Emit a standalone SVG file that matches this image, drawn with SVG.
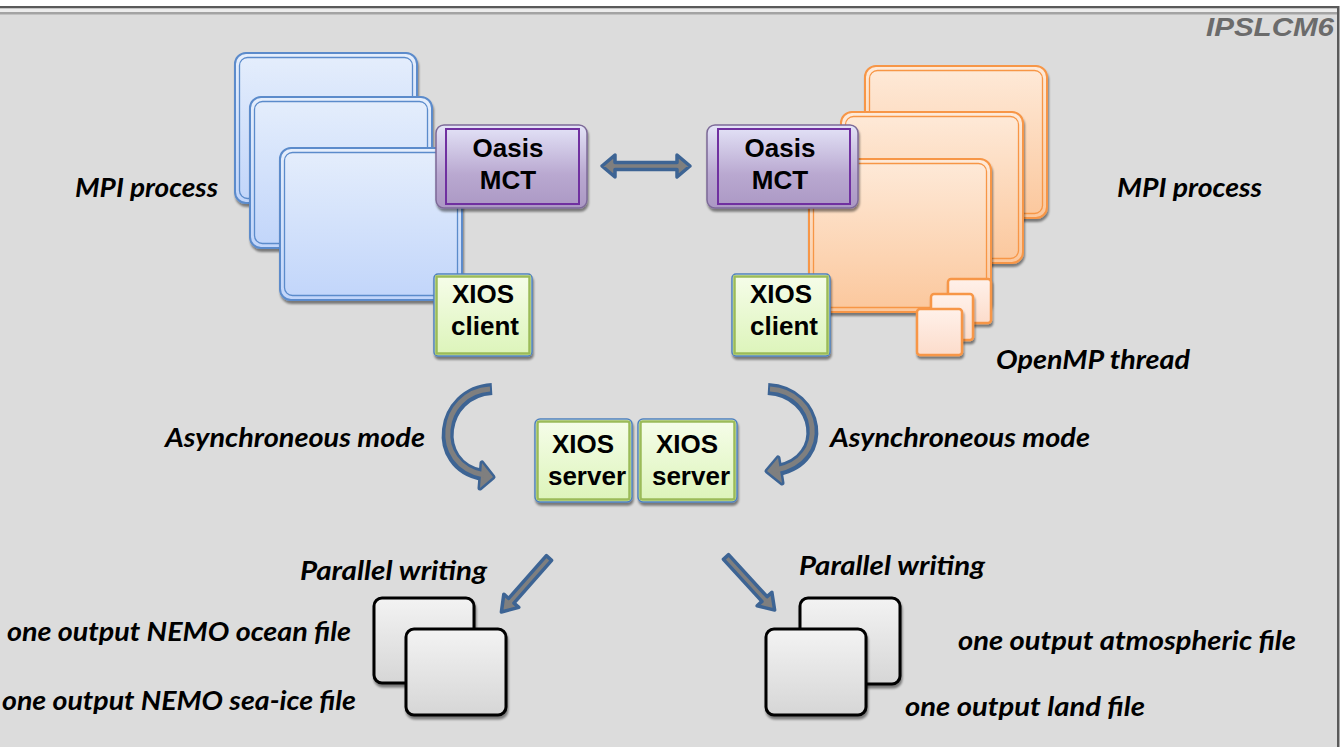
<svg xmlns="http://www.w3.org/2000/svg" width="1342" height="747" viewBox="0 0 1342 747">
<defs>
<linearGradient id="gBlue" x1="0" y1="0" x2="0" y2="1"><stop offset="0" stop-color="#e5eefc"/><stop offset="1" stop-color="#c1d5fa"/></linearGradient>
<linearGradient id="gOrange" x1="0" y1="0" x2="0" y2="1"><stop offset="0" stop-color="#feead9"/><stop offset="1" stop-color="#fbc79c"/></linearGradient>
<linearGradient id="gSmall" x1="0" y1="0" x2="0" y2="1"><stop offset="0" stop-color="#fff1ea"/><stop offset="1" stop-color="#fcdccb"/></linearGradient>
<linearGradient id="gPurple" x1="0" y1="0" x2="0" y2="1"><stop offset="0" stop-color="#e4e4f8"/><stop offset="0.6" stop-color="#b9a8d0"/><stop offset="1" stop-color="#ab98c4"/></linearGradient>
<linearGradient id="gGreen" x1="0" y1="0" x2="0" y2="1"><stop offset="0" stop-color="#f6fdea"/><stop offset="1" stop-color="#dcf4b9"/></linearGradient>
<linearGradient id="gGray" x1="0" y1="0" x2="0" y2="1"><stop offset="0" stop-color="#f3f3f3"/><stop offset="1" stop-color="#d6d6d6"/></linearGradient>
<filter id="sh" x="-10%" y="-10%" width="130%" height="130%"><feDropShadow dx="1" dy="3" stdDeviation="1.2" flood-color="#000" flood-opacity="0.45"/></filter>
</defs>
<style>
.lbl{font-family:Lato,"Open Sans",sans-serif;font-weight:bold;font-style:italic;font-size:27px;fill:#000}
.bx{font-family:"Liberation Sans",Arial,sans-serif;font-weight:bold;font-size:26px;fill:#000;text-anchor:middle}
.blue{fill:url(#gBlue);stroke:#5b8bcb;stroke-width:2}
.blueIn{fill:none;stroke:#5b8bcb;stroke-width:1.3}
.orange{fill:url(#gOrange);stroke:#f79646;stroke-width:2}
.orangeIn{fill:none;stroke:#f79646;stroke-width:1.3}
.small{fill:url(#gSmall);stroke:#f79646;stroke-width:2.5}
.oasisOut{fill:url(#gPurple);stroke:#7d6a98;stroke-width:1.5}
.oasisIn{fill:none;stroke:#7030a0;stroke-width:2}
.xiosOut{fill:url(#gGreen);stroke:#4f81bd;stroke-width:1.5}
.xiosIn{fill:none;stroke:#9bbb59;stroke-width:2.5}
.file{fill:url(#gGray);stroke:#000;stroke-width:3}
.arr{fill:#7f7f7f;stroke:#3d6494;stroke-width:3.5;stroke-linejoin:round}
.bodyB{fill:none;stroke:#3d6494;stroke-width:12}
.bodyG{fill:none;stroke:#7f7f7f;stroke-width:5}
</style>
<!-- frame -->
<rect x="0" y="0" width="1342" height="747" fill="#ffffff"/>
<rect x="0" y="8" width="1338" height="739" fill="#dcdcdc"/>
<rect x="0" y="6" width="1339" height="2.5" fill="#5a5a5a"/>
<rect x="0" y="8.5" width="1337" height="3.5" fill="#ececec"/>
<rect x="0" y="12" width="1337" height="2.5" fill="#a3a3a3"/>
<rect x="1337" y="6" width="2.5" height="741" fill="#5a5a5a"/>
<text x="1334" y="36" font-family="Liberation Sans,Arial,sans-serif" font-weight="bold" font-style="italic" font-size="25" fill="#6b6b6b" text-anchor="end" textLength="128" lengthAdjust="spacingAndGlyphs">IPSLCM6</text>

<!-- left MPI process stack -->
<g id="mpi-left">
<g filter="url(#sh)"><rect class="blue" x="235" y="53" width="182" height="150" rx="11"/></g>
<rect class="blueIn" x="239.5" y="57.5" width="173" height="141" rx="8"/>
<g filter="url(#sh)"><rect class="blue" x="250" y="97" width="182" height="151" rx="11"/></g>
<rect class="blueIn" x="254.5" y="101.5" width="173" height="142" rx="8"/>
<g filter="url(#sh)"><rect class="blue" x="280" y="148" width="182" height="152" rx="11"/></g>
<rect class="blueIn" x="284.5" y="152.5" width="173" height="143" rx="8"/>
</g>
<g id="oasis-left">
<g filter="url(#sh)"><rect class="oasisOut" x="436" y="125" width="151" height="83" rx="8"/></g>
<rect class="oasisIn" x="446" y="129" width="133" height="75"/>
<text class="bx" x="508" y="157">Oasis</text>
<text class="bx" x="508" y="189">MCT</text>
</g>
<g id="xios-client-left">
<g filter="url(#sh)"><rect class="xiosOut" x="434" y="274" width="98" height="82" rx="4"/></g>
<rect class="xiosIn" x="436.5" y="276.5" width="93" height="77"/>
<text class="bx" x="483" y="303">XIOS</text>
<text class="bx" x="485" y="335">client</text>
</g>

<!-- right MPI process stack -->
<g id="mpi-right">
<g filter="url(#sh)"><rect class="orange" x="865" y="66" width="182" height="152" rx="11"/></g>
<rect class="orangeIn" x="869.5" y="70.5" width="173" height="143" rx="8"/>
<g filter="url(#sh)"><rect class="orange" x="841" y="112" width="182" height="151" rx="11"/></g>
<rect class="orangeIn" x="845.5" y="116.5" width="173" height="142" rx="8"/>
<g filter="url(#sh)"><rect class="orange" x="809" y="159" width="182" height="153" rx="11"/></g>
<rect class="orangeIn" x="813.5" y="163.5" width="173" height="144" rx="8"/>
</g>
<g id="openmp-threads">
<g filter="url(#sh)"><rect class="small" x="948" y="279" width="43" height="44" rx="3"/></g>
<g filter="url(#sh)"><rect class="small" x="931" y="294" width="42" height="46" rx="3"/></g>
<g filter="url(#sh)"><rect class="small" x="917" y="309" width="45" height="46" rx="3"/></g>
</g>
<g id="oasis-right">
<g filter="url(#sh)"><rect class="oasisOut" x="707" y="125" width="151" height="83" rx="8"/></g>
<rect class="oasisIn" x="718" y="129" width="132" height="75"/>
<text class="bx" x="780" y="157">Oasis</text>
<text class="bx" x="780" y="189">MCT</text>
</g>
<g id="xios-client-right">
<g filter="url(#sh)"><rect class="xiosOut" x="732" y="274" width="98" height="82" rx="4"/></g>
<rect class="xiosIn" x="734.5" y="276.5" width="93" height="77"/>
<text class="bx" x="781" y="303">XIOS</text>
<text class="bx" x="784" y="335">client</text>
</g>

<!-- servers -->
<g id="xios-server-1">
<g filter="url(#sh)"><rect class="xiosOut" x="535" y="419" width="97" height="83" rx="5"/></g>
<rect class="xiosIn" x="537.5" y="421.5" width="92" height="78" rx="2"/>
<text class="bx" x="583" y="453">XIOS</text>
<text class="bx" x="587" y="485">server</text>
</g>
<g id="xios-server-2">
<g filter="url(#sh)"><rect class="xiosOut" x="638" y="419" width="99" height="83" rx="5"/></g>
<rect class="xiosIn" x="640.5" y="421.5" width="94" height="78" rx="2"/>
<text class="bx" x="687" y="453">XIOS</text>
<text class="bx" x="691" y="485">server</text>
</g>

<!-- output files -->
<g id="files-left">
<g filter="url(#sh)"><rect class="file" x="374" y="598" width="100" height="85" rx="8"/></g>
<g filter="url(#sh)"><rect class="file" x="406" y="629" width="100" height="86" rx="8"/></g>
</g>
<g id="files-right">
<g filter="url(#sh)"><rect class="file" x="800" y="598" width="100" height="86" rx="8"/></g>
<g filter="url(#sh)"><rect class="file" x="766" y="629" width="100" height="86" rx="8"/></g>
</g>

<!-- connectors -->
<g id="connectors">
<polygon class="arr" points="602,166 615,155 615,162.5 677,162.5 677,155 690,166 677,177 677,169.5 615,169.5 615,177"/>
<!-- left curved -->
<polygon points="482,463 480,488 493,477" fill="#3d6494" stroke="#3d6494" stroke-width="5" stroke-linejoin="round"/>
<path class="bodyB" d="M 492,389 C 440,392 430,465 482,475"/>
<polygon points="482,463 480,488 493,477" fill="#7f7f7f"/>
<path class="bodyG" d="M 490,389 C 440,392 430,465 484,475"/>
<!-- right curved -->
<polygon points="778,458 782,483 767,471" fill="#3d6494" stroke="#3d6494" stroke-width="5" stroke-linejoin="round"/>
<path class="bodyB" d="M 768,389 C 820,392 830,460 778,470"/>
<polygon points="778,458 782,483 767,471" fill="#7f7f7f"/>
<path class="bodyG" d="M 770,389 C 820,392 830,460 776,470"/>
<!-- straight -->
<polygon class="arr" transform="translate(549,558) rotate(131.4)" points="0,-3.5 57,-3.5 57,-10 72,0 57,10 57,3.5 0,3.5"/>
<polygon class="arr" transform="translate(726,557) rotate(47.5)" points="0,-3.5 57,-3.5 57,-10 72,0 57,10 57,3.5 0,3.5"/>
</g>

<!-- labels -->
<text class="lbl" x="75" y="197" textLength="143" lengthAdjust="spacingAndGlyphs">MPI process</text>
<text class="lbl" x="1117" y="197" textLength="145" lengthAdjust="spacingAndGlyphs">MPI process</text>
<text class="lbl" x="996" y="369" textLength="194" lengthAdjust="spacingAndGlyphs">OpenMP thread</text>
<text class="lbl" x="165" y="447" textLength="260" lengthAdjust="spacingAndGlyphs">Asynchroneous mode</text>
<text class="lbl" x="830" y="447" textLength="260" lengthAdjust="spacingAndGlyphs">Asynchroneous mode</text>
<text class="lbl" x="300" y="580" textLength="187" lengthAdjust="spacingAndGlyphs">Parallel writing</text>
<text class="lbl" x="799" y="575" textLength="186" lengthAdjust="spacingAndGlyphs">Parallel writing</text>
<text class="lbl" x="7" y="641" textLength="344" lengthAdjust="spacingAndGlyphs">one output NEMO ocean file</text>
<text class="lbl" x="2" y="710" textLength="354" lengthAdjust="spacingAndGlyphs">one output NEMO sea-ice file</text>
<text class="lbl" x="958" y="650" textLength="338" lengthAdjust="spacingAndGlyphs">one output atmospheric file</text>
<text class="lbl" x="905" y="716" textLength="240" lengthAdjust="spacingAndGlyphs">one output land file</text>
</svg>
